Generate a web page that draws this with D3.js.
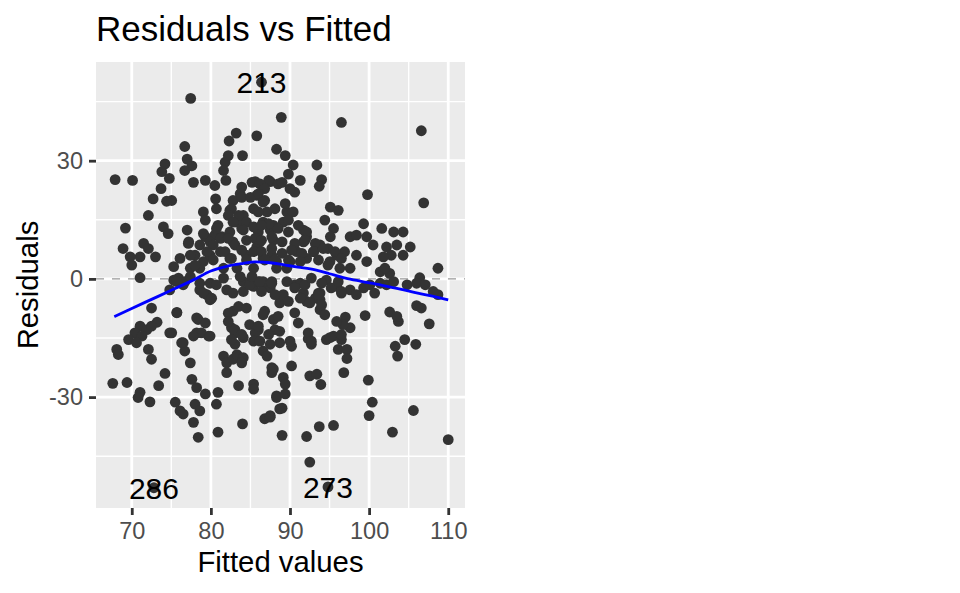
<!DOCTYPE html>
<html>
<head>
    <meta charset="utf-8">
    <script src="https://d3js.org/d3.v7.min.js"></script>
    <style>
        body { margin: 0; background: #fff; }
        text { font-family: "Liberation Sans", Arial, Helvetica, sans-serif; }
        .tick text { fill: #4D4D4D; font-size: 23.5px; }
    </style>
</head>
<body>
    <svg width="960" height="593"></svg>

    <script>
        const width = 960, height = 593;
        const panel = { left: 96, right: 465, top: 62, bottom: 508 };
        const svg = d3.select("svg");

        // fitted values and residuals
        const fitted = [
            86.4, 77.45, 88.9, 83.2, 82.3, 85.8, 76.7, 84.0, 88.3, 77.0, 77.6, 76.7, 74.2, 73.8, 74.75, 67.9, 70.1, 81.8, 82.2, 81.6,
            81.9, 77.8, 79.3, 80.5, 73.7, 72.7, 74.4, 83.9, 83.7, 85.6, 87.5, 88.5, 80.6, 80.7, 85.8, 86.8, 82.8, 82.4, 72.1, 79.05,
            79.3, 84.1, 83.3, 69.2, 74.0, 74.6, 77.0, 87.1, 88.1, 86.6, 80.9, 80.5, 81.4, 79.3, 79.9, 78.6, 82.4, 83.9, 84.5, 82.8,
            86.0, 87.5, 86.2, 87.9, 77.15, 71.5, 72.1, 73.0, 71.05, 68.9, 69.8, 70.0, 76.1, 75.3, 77.4, 78.0, 79.05, 78.6, 79.9, 81.2,
            82.4, 81.6, 83.3, 84.5, 85.4, 86.6, 87.7, 88.3, 71.05, 75.9, 76.7,
            96.5, 106.6, 89.4, 90.4, 93.4, 94.0, 93.7, 89.8, 91.3, 89.0, 90.6, 90.0, 99.8, 106.9, 95.1, 96.1, 94.4, 95.5, 95.1, 91.7,
            92.1, 91.05, 89.6, 89.15, 87.9, 99.3, 101.6, 103.1, 104.3, 97.6, 98.4, 99.7, 100.5, 102.2, 103.5, 105.2, 104.3, 102.8, 101.8, 93.8,
            92.95, 94.8, 95.9, 96.9, 98.4, 99.7, 91.7, 90.85, 92.1, 90.0, 95.05, 96.3, 97.6, 101.4, 102.6, 102.0, 108.7, 106.4, 88.3, 89.6,
            72.5, 75.7, 71.05, 71.9, 70.4, 71.3, 73.2, 72.5, 69.6, 70.6, 68.1, 68.3, 72.1, 72.5, 74.8, 74.2, 73.4, 67.6, 69.4, 71.05,
            72.3, 70.8, 76.5, 76.7, 77.4, 77.6, 78.2, 79.3, 75.5, 76.1, 76.5, 78.0, 78.6, 77.8, 78.4, 80.9, 80.7, 80.9, 78.4, 79.3,
            78.2, 79.7, 81.6, 82.0, 82.8, 82.0, 83.3, 82.8, 82.2, 83.5, 82.6, 83.05, 84.1, 83.05, 84.1, 83.9, 83.5, 85.4, 85.4, 84.0,
            86.8, 87.5, 86.0, 86.6, 87.1, 87.7, 87.7, 88.3, 88.7, 86.8, 87.9, 88.1, 82.0, 84.1, 85.4, 86.6, 87.5, 79.5, 79.9, 78.6,
            82.8, 75.3, 76.5, 78.6, 79.9, 86.6, 87.7, 84.1, 72.8,
            99.5, 102.6, 103.7, 103.5, 106.0, 106.6, 107.6, 108.7, 97.0, 97.6, 96.7, 104.5, 105.9, 103.3, 103.6, 95.5, 96.5, 96.1, 97.2, 97.2,
            96.8, 94.6, 92.3, 92.7, 93.8, 93.8, 92.1, 93.2, 90.2, 88.7, 87.5, 90.2, 87.9, 89.15, 89.4, 92.5, 93.4, 93.9, 88.3, 89.4,
            89.0, 87.5, 99.9, 100.4, 100.0, 105.6, 102.95, 110.0, 89.0, 92.1, 93.7, 95.5, 92.5, 94.8, 91.7, 93.6, 93.8, 90.6, 88.7, 89.15,
            91.3, 94.6, 95.9, 96.5, 97.6, 98.4, 99.3, 100.1, 100.7, 101.4, 102.2, 103.1, 104.8, 106.0, 107.1, 108.1,
            85.2, 82.6, 83.9, 85.0, 85.4, 82.2, 83.5, 82.8, 84.5, 84.1, 85.4, 77.2, 79.05, 80.7, 81.2, 80.3, 82.2, 83.05, 85.6, 85.8,
            75.05, 87.3, 86.2, 86.8, 86.0, 86.6, 89.4, 90.4, 86.0, 89.8, 92.1, 91.9, 89.8, 88.5, 87.3, 86.4, 87.7, 86.4, 89.0, 90.6,
            93.2, 77.4, 78.0, 79.5, 80.3, 81.8, 82.6, 83.9, 84.5, 85.4, 75.7, 74.8, 77.4, 79.05, 80.1, 80.7, 81.6, 83.7, 84.9, 86.0,
            85.2, 75.7, 78.2, 78.8, 77.8, 79.9, 75.05, 76.3, 84.5, 82.2, 83.05, 83.9, 82.6, 84.9, 85.6, 85.4,
            86.4, 87.7, 89.0, 90.2, 91.5, 93.0, 94.2, 95.7, 96.5, 86.8, 88.1, 89.8, 91.3, 93.6, 94.8, 86.2, 87.7, 86.4, 88.1, 89.6,
            90.6, 91.9, 89.8, 91.3, 92.7, 94.0, 95.2, 92.5, 93.6, 94.0, 96.5, 96.1, 86.6, 88.5, 86.0, 88.7, 86.2, 87.3, 90.6, 91.05,
            92.3, 90.0, 92.7, 94.4, 95.9, 96.5, 95.05
        ];
        const residuals = [
            49.9, 45.8, 41.0, 37.0, 35.0, 36.3, 33.6, 31.3, 32.9, 30.4, 28.7, 27.5, 29.2, 27.2, 25.5, 25.2, 25.0, 29.6, 31.3, 27.5,
            25.0, 24.5, 25.0, 23.7, 22.9, 20.3, 19.7, 23.3, 21.6, 24.7, 24.7, 24.1, 20.3, 17.8, 21.2, 19.9, 19.9, 17.4, 16.1, 17.0,
            14.9, 16.1, 14.4, 12.9, 13.2, 11.5, 12.4, 17.0, 17.8, 14.4, 13.6, 11.1, 10.7, 10.7, 9.4, 8.6, 11.9, 12.8, 9.8, 9.4,
            11.9, 12.4, 9.4, 9.8, 9.0, 9.0, 7.7, 5.6, 5.6, 7.7, 5.6, 3.5, 5.2, 3.1, 2.7, 6.0, 4.4, 2.7, 6.0, 6.9,
            5.2, 2.7, 2.7, 6.0, 2.7, 5.2, 6.0, 2.7, 0.3, 0.2, -0.7,
            39.7, 37.6, 31.3, 28.9, 28.9, 25.2, 23.5, 26.6, 25.0, 24.5, 22.0, 22.9, 21.4, 19.3, 18.2, 17.4, 14.9, 12.8, 10.7, 12.4,
            10.7, 13.6, 17.0, 14.4, 13.6, 14.0, 12.8, 11.9, 11.9, 10.7, 11.1, 10.7, 8.6, 8.1, 8.6, 8.1, 6.0, 6.0, 5.6, 8.6,
            6.9, 7.7, 6.0, 6.9, 6.0, 4.4, 9.4, 6.9, 5.2, 4.4, 4.4, 2.7, 2.7, 1.8, 1.4, 2.7, 2.7, 0.3, 4.4, 2.7,
            -7.4, -8.5, -12.0, -12.9, -13.7, -14.5, -11.0, -12.0, -15.4, -16.2, -17.9, -19.2, -17.9, -20.4, -13.7, -24.0, -27.1, -26.5, -26.3, -28.8,
            -31.2, -30.1, -16.2, -18.3, -21.3, -25.5, -27.6, -29.2, -31.3, -33.5, -34.3, -31.8, -33.5, -36.4, -40.2, -28.8, -31.8, -38.9, -10.3, -11.2,
            -13.7, -14.5, -19.6, -21.3, -20.4, -23.8, -19.2, -8.2, -8.7, -7.0, -12.4, -13.7, -14.9, -16.6, -20.0, -21.3, -27.1, -26.7, -28.0, -36.8,
            -35.5, -34.7, -12.9, -18.3, -19.6, -22.5, -23.8, -29.7, -33.0, -8.2, -10.3, -12.9, -2.8, -3.2, -1.9, -1.5, -2.3, -4.0, -5.3, -2.8,
            -3.6, -0.3, -1.5, -1.1, -1.1, -0.7, -0.7, -0.7, -53.0,
            -9.3, -8.4, -10.8, -9.5, -6.8, -7.4, -11.4, -4.0, -9.7, -12.4, -11.6, -15.4, -16.6, -17.1, -19.6, -14.5, -15.4, -17.9, -17.9, -20.2,
            -23.8, -15.4, -15.2, -16.6, -3.6, -7.8, -5.7, -4.9, -17.1, -16.2, -16.6, -22.1, -22.9, -25.0, -26.7, -24.6, -24.2, -26.8, -30.1, -29.2,
            -32.8, -35.1, -25.7, -31.3, -34.7, -33.4, -38.9, -40.8, -39.7, -40.0, -37.5, -37.2, -46.5, -52.8, -3.6, -3.6, -5.3, -1.5, -6.1, -4.0,
            -1.1, -0.3, -1.9, -3.6, -2.8, -4.0, -2.3, -1.5, -3.6, -1.1, -1.5, -0.7, -1.5, -1.1, -1.5, -3.2,
            24.5, 17.8, 20.7, 20.7, 17.8, 16.1, 16.1, 14.4, 14.4, 12.4, 13.2, 9.4, 11.5, 12.8, 10.3, 8.6, 10.3, 8.6, 10.3, 8.1,
            19.9, 25.0, 24.1, 22.9, 21.6, 19.5, 19.1, 17.0, 17.0, 14.9, 11.9, 9.8, 11.9, 12.8, 14.0, 13.6, 10.7, 9.8, 9.4, 9.0,
            9.0, 6.0, 3.5, 6.9, 4.8, 6.9, 5.2, 7.3, 4.8, 6.9, -0.7, -2.8, 0.6, -3.6, -4.9, -1.5, 0.2, 0.6, -1.5, -0.7,
            0.6, -8.6, -9.9, -13.7, -14.5, -14.5, -13.7, -16.2, -7.4, -10.8, -12.9, -14.1, -15.4, -11.6, -13.7, -15.8,
            6.9, 7.7, 6.5, 7.3, 6.5, 6.9, 7.7, 6.9, 5.2, 4.8, 4.8, 4.8, 4.4, 4.8, 3.5, -0.7, -1.1, -3.2, -4.0, -0.7,
            -2.3, -1.5, -5.7, -4.9, 0.2, -1.1, -2.3, -6.1, -4.0, -6.6, -3.2, -0.7, -9.1, -9.5, -12.0, -13.3, -15.8, -14.1, -8.6, -11.2,
            -13.7, -15.8, -15.8, -9.1, -10.8, -14.1, -14.9
        ];

        // labelled outliers
        const labelNames = ["213", "286", "273"];
        const labelFitted = [86.4, 72.8, 94.8];
        const labelResid = [49.9, -53.0, -52.8];

        // smoother
        const smoothX = [67.8, 70, 72.5, 75, 77.8, 80, 82, 84, 85.6, 87.5, 89.4, 91, 93.2, 95, 97, 99, 101.4, 103.5, 105.7, 108, 110];
        const smoothY = [-9.6, -7.5, -5.2, -2.9, -0.25, 2.0, 3.2, 3.9, 4.3, 4.1, 3.5, 3.0, 2.3, 1.3, 0.2, -0.6, -1.5, -2.4, -3.4, -4.4, -5.3];

        const xTicks = [70, 80, 90, 100, 110];
        const yTicks = [-30, 0, 30];
        const xMinor = [75, 85, 95, 105];
        const yMinor = [-45, -15, 15, 45];

        // ggplot style 5% expansion
        function expand(ext) {
            const pad = (ext[1] - ext[0]) * 0.05;
            return [ext[0] - pad, ext[1] + pad];
        }

        const xScale = d3.scaleLinear().domain(expand(d3.extent(fitted))).range([panel.left, panel.right]);
        const yScale = d3.scaleLinear().domain(expand(d3.extent(residuals))).range([panel.bottom, panel.top]);

        // panel
        svg.append("rect")
            .attr("x", panel.left).attr("y", panel.top)
            .attr("width", panel.right - panel.left).attr("height", panel.bottom - panel.top)
            .attr("fill", "#EBEBEB");

        const grid = svg.append("g");
        grid.selectAll("line.vminor").data(xMinor).enter().append("line")
            .attr("x1", d => xScale(d)).attr("x2", d => xScale(d))
            .attr("y1", panel.top).attr("y2", panel.bottom)
            .attr("stroke", "#fff").attr("stroke-width", 1.4);
        grid.selectAll("line.hminor").data(yMinor).enter().append("line")
            .attr("y1", d => yScale(d)).attr("y2", d => yScale(d))
            .attr("x1", panel.left).attr("x2", panel.right)
            .attr("stroke", "#fff").attr("stroke-width", 1.4);
        grid.selectAll("line.vmajor").data(xTicks).enter().append("line")
            .attr("x1", d => xScale(d)).attr("x2", d => xScale(d))
            .attr("y1", panel.top).attr("y2", panel.bottom)
            .attr("stroke", "#fff").attr("stroke-width", 2.8);
        grid.selectAll("line.hmajor").data(yTicks).enter().append("line")
            .attr("y1", d => yScale(d)).attr("y2", d => yScale(d))
            .attr("x1", panel.left).attr("x2", panel.right)
            .attr("stroke", "#fff").attr("stroke-width", 2.8);

        // zero reference
        svg.append("line")
            .attr("x1", panel.left).attr("x2", panel.right)
            .attr("y1", yScale(0)).attr("y2", yScale(0))
            .attr("stroke", "#999").attr("stroke-width", 1.4)
            .attr("stroke-dasharray", "8,8");

        // points
        svg.append("g").selectAll("circle")
            .data(fitted.map((f, i) => ({ x: f, y: residuals[i] })))
            .enter().append("circle")
            .attr("cx", d => xScale(d.x))
            .attr("cy", d => yScale(d.y))
            .attr("r", 5.4)
            .attr("fill", "#333333");

        // smoother
        const line = d3.line()
            .x(d => xScale(d[0]))
            .y(d => yScale(d[1]))
            .curve(d3.curveMonotoneX);
        svg.append("path")
            .datum(smoothX.map((x, i) => [x, smoothY[i]]))
            .attr("d", line)
            .attr("fill", "none")
            .attr("stroke", "blue")
            .attr("stroke-width", 2.8);

        // outlier labels
        svg.append("g").selectAll("text")
            .data(labelNames)
            .enter().append("text")
            .attr("x", (d, i) => xScale(labelFitted[i]))
            .attr("y", (d, i) => yScale(labelResid[i]))
            .attr("dy", "0.36em")
            .attr("text-anchor", "middle")
            .attr("font-size", "30px")
            .attr("fill", "#000")
            .text(d => d);

        // axes (plain hyphen for negatives, like the original)
        const fmt = d => String(d);
        const xAxis = d3.axisBottom(xScale).tickValues(xTicks).tickFormat(fmt).tickSize(7).tickPadding(7);
        const yAxis = d3.axisLeft(yScale).tickValues(yTicks).tickFormat(fmt).tickSize(7).tickPadding(6);

        const gx = svg.append("g")
            .attr("transform", `translate(0, ${panel.bottom})`)
            .call(xAxis);
        const gy = svg.append("g")
            .attr("transform", `translate(${panel.left}, 0)`)
            .call(yAxis);
        [gx, gy].forEach(g => {
            g.select(".domain").remove();
            g.selectAll(".tick line").attr("stroke", "#333333").attr("stroke-width", 2.8);
            g.selectAll(".tick text").attr("font-family", null);
        });
        gx.selectAll(".tick text").attr("dy", "0.71em");

        // titles
        svg.append("text")
            .attr("x", panel.left).attr("y", 41)
            .attr("font-size", "35px")
            .attr("fill", "#000")
            .text("Residuals vs Fitted");

        svg.append("text")
            .attr("x", (panel.left + panel.right) / 2).attr("y", 572)
            .attr("text-anchor", "middle")
            .attr("font-size", "29.3px")
            .attr("fill", "#000")
            .text("Fitted values");

        svg.append("text")
            .attr("transform", `translate(38, ${(panel.top + panel.bottom) / 2}) rotate(-90)`)
            .attr("text-anchor", "middle")
            .attr("font-size", "29.3px")
            .attr("fill", "#000")
            .text("Residuals");
    </script>
</body>
</html>
